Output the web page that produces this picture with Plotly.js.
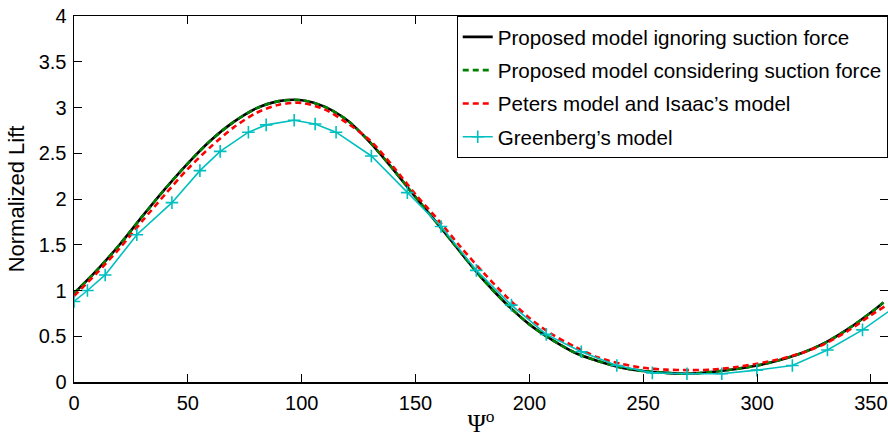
<!DOCTYPE html>
<html>
<head>
<meta charset="utf-8">
<script src="https://cdn.plot.ly/plotly-3.0.1.min.js"></script>
<style>html,body{margin:0;padding:0;background:#fff;}#chart{width:888px;height:437px;}</style>
</head>
<body>
<div id="chart"></div>
<script>
// Data
var psiProposed = [0,10,20,30,40,50,60,70,80,90,100,110,120,130,140,150,160,170,180,190,200,210,220,230,240,250,260,270,280,290,300,310,320,330,340,350,355.5];
var liftIgnoringSuction = [0.97,1.22,1.50,1.81,2.11,2.39,2.64,2.84,2.99,3.07,3.08,3.01,2.86,2.62,2.33,2.02,1.72,1.41,1.11,0.85,0.63,0.46,0.32,0.23,0.16,0.12,0.10,0.09,0.11,0.14,0.18,0.24,0.32,0.43,0.58,0.76,0.87];
var liftConsideringSuction = [0.97,1.22,1.50,1.81,2.11,2.39,2.64,2.84,2.99,3.07,3.08,3.01,2.86,2.62,2.33,2.02,1.72,1.41,1.11,0.85,0.63,0.46,0.32,0.23,0.16,0.12,0.10,0.09,0.11,0.14,0.18,0.24,0.32,0.43,0.58,0.76,0.87];
var psiPeters = [0,10,20,30,40,50,60,70,80,90,100,110,120,130,140,150,160,170,180,190,200,210,220,230,240,250,260,270,280,290,300,310,320,330,340,350,357];
var liftPeters = [0.94,1.19,1.46,1.76,2.05,2.33,2.57,2.78,2.94,3.03,3.05,2.98,2.83,2.64,2.36,2.05,1.77,1.47,1.19,0.93,0.70,0.52,0.385,0.27,0.20,0.155,0.135,0.13,0.135,0.16,0.20,0.25,0.32,0.42,0.56,0.73,0.84];
var psiGreenberg = [0,5.9,13.7,27.6,43,55.3,64.2,76.6,84.4,96.7,105.9,115.1,130.6,146.4,161.2,176.7,192.1,207.4,222.8,238.4,254,269.2,284.5,299.9,315.5,330.9,346.3,361.7];
var liftGreenberg = [0.88,1.00,1.17,1.61,1.96,2.31,2.52,2.73,2.81,2.86,2.82,2.73,2.47,2.07,1.70,1.22,0.84,0.52,0.33,0.18,0.10,0.09,0.09,0.13,0.18,0.35,0.57,0.84];
var seriesNames = ["Proposed model ignoring suction force","Proposed model considering suction force","Peters model and Isaac\u2019s model","Greenberg\u2019s model"];
var xTicks = [0,50,100,150,200,250,300,350];
var yTicks = [0,0.5,1,1.5,2,2.5,3,3.5,4];

var traces = [
  {x: psiProposed, y: liftIgnoringSuction, name: seriesNames[0], legendgroup:'a', mode:'lines',
   line:{color:'#000000', width:2.6, shape:'spline', smoothing:0.8}},
  {x: psiProposed, y: liftConsideringSuction, name: seriesNames[1], legendgroup:'b', mode:'lines',
   line:{color:'#008000', width:2.6, dash:'6px,4px', shape:'spline', smoothing:0.8}},
  {x: psiPeters, y: liftPeters, name: seriesNames[2], legendgroup:'c', mode:'lines',
   line:{color:'#ff0000', width:2.6, dash:'6px,4px', shape:'spline', smoothing:0.8}},
  {x: psiGreenberg, y: liftGreenberg, name: seriesNames[3], legendgroup:'d', mode:'lines+markers',
   line:{color:'#00bfbf', width:1.6}, marker:{symbol:'cross-thin', size:9, color:'#00bfbf', line:{color:'#00bfbf', width:1.6}}}
];

var font = 'Arial, "Liberation Sans", sans-serif';
var layout = {
  width: 888, height: 437,
  margin: {l:74, r:0, t:16, b:55, autoexpand:false},
  paper_bgcolor:'#fff', plot_bgcolor:'#fff',
  font: {family: font, size: 20, color:'#000'},
  showlegend: true,
  legend: {x:0.4702, y:1, xanchor:'left', yanchor:'top', bgcolor:'#fff', bordercolor:'#000', borderwidth:1,
           font:{family: font, size:20.6, color:'#000'}, tracegroupgap:3.5, itemwidth:30},
  xaxis: {range:[0,357.5], tickvals:xTicks, ticks:'inside', ticklen:8, tickcolor:'#000', tickwidth:1,
          showline:true, linecolor:'#000', linewidth:1.5, mirror:'ticks', showgrid:false, zeroline:false,
          tickfont:{family:font, size:20}, ticklabelstandoff:2,
          title:{text:'\u03a8<sup>o</sup>', font:{family:'"Liberation Serif", "DejaVu Serif", serif', size:25}, standoff:5}},
  yaxis: {range:[0,4], tickvals:yTicks, ticks:'inside', ticklen:8, tickcolor:'#000', tickwidth:1,
          showline:true, linecolor:'#000', linewidth:1.5, mirror:'ticks', showgrid:false, zeroline:false,
          tickfont:{family:font, size:20}, ticklabelstandoff:2,
          title:{text:'Normalized Lift', font:{family:font, size:22}, standoff:8}}
};
Plotly.newPlot('chart', traces, layout, {displayModeBar:false, staticPlot:true});
</script>
</body>
</html>
